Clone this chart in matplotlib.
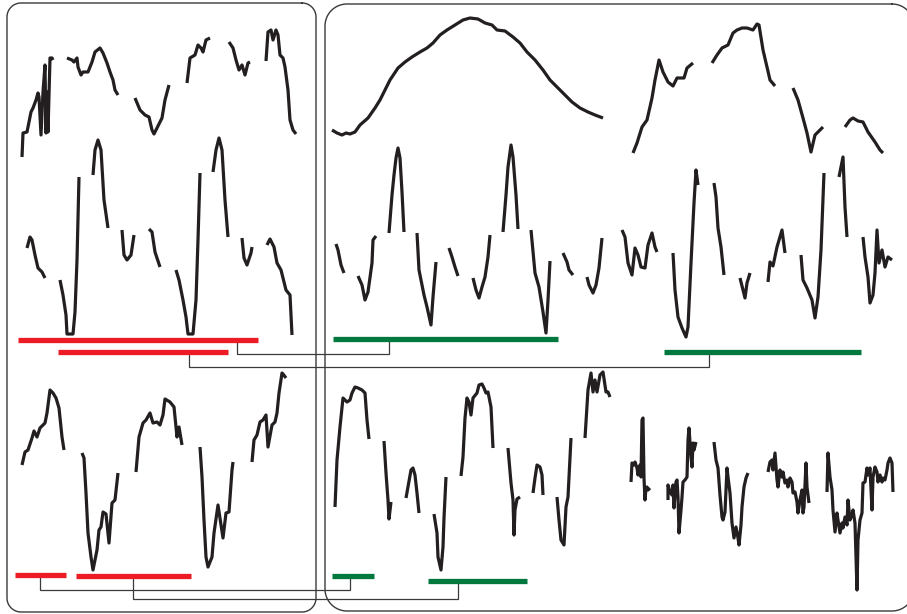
import numpy as np
import matplotlib
matplotlib.use("Agg")
import matplotlib.pyplot as plt

INK = "#231f20"
RED = "#ed1c24"
GREEN = "#00783e"
FRAME = "#3a3a3c"

# ---- recorded traces: (time, level) pieces, gaps between pieces ----
trace_left_top = [
    ([22, 23, 27, 29, 31, 33, 36, 38, 39, 41, 43, 45, 46, 47, 48, 50, 52, 53],
     [157, 133, 132, 122, 112, 108, 100, 93, 97, 135, 92, 65, 133, 92, 132, 58, 58, 60]),
    ([67, 72, 74, 77, 78, 81, 83, 88, 92, 95, 100, 103, 107, 110, 113, 115, 118],
     [58, 60, 62, 58, 67, 75, 72, 72, 62, 52, 48, 53, 63, 72, 80, 90, 95]),
    ([135, 140, 145, 149, 152, 154, 157, 162, 165, 169],
     [98, 110, 115, 117, 130, 134, 128, 118, 100, 85]),
    ([187, 190, 195, 198, 201, 203, 206, 210],
     [83, 58, 55, 45, 48, 52, 40, 38]),
    ([229, 233, 236, 239, 242, 245, 248, 250],
     [42, 48, 60, 70, 65, 75, 63, 62]),
    ([266, 268, 271, 273, 276, 278, 280, 283, 285, 288, 290, 293, 296],
     [61, 32, 30, 40, 30, 35, 55, 58, 67, 90, 120, 130, 134]),
]

trace_left_mid = [
    ([27, 30, 32, 35, 38, 42, 45],
     [248, 237, 240, 255, 268, 272, 278]),
    ([60, 63, 66, 67, 73, 75, 77, 79],
     [280, 295, 315, 334, 334, 312, 260, 177]),
    ([93, 95, 98, 101, 104, 108],
     [175, 150, 140, 150, 200, 228]),
    ([122, 124, 127, 131, 134],
     [230, 255, 260, 255, 235]),
    ([149, 152, 155, 160],
     [229, 232, 252, 267]),
    ([176, 179, 183, 186, 188, 193, 196, 198, 200],
     [270, 280, 300, 317, 334, 334, 300, 240, 173]),
    ([213, 216, 219, 222, 225, 228],
     [172, 150, 138, 150, 200, 237]),
    ([242, 244, 247, 251, 252],
     [238, 258, 265, 253, 247]),
    ([267, 270, 274, 277, 281, 286, 290, 292],
     [245, 239, 247, 263, 270, 290, 295, 335]),
]

trace_right_top = [
    ([332, 337, 342, 346, 350, 355, 360, 368, 375, 380, 385, 390, 398, 405, 412, 420,
      427, 433, 440, 447, 455, 463, 470, 478, 485, 492, 497, 505, 513, 520, 527, 535,
      543, 550, 558, 565, 572, 580, 588, 595, 603],
     [130, 133, 135, 133, 134, 132, 125, 118, 108, 100, 90, 80, 68, 62, 57, 52,
      48, 43, 35, 30, 25, 20, 18, 19, 23, 25, 30, 31, 37, 43, 52, 60,
      70, 80, 88, 95, 102, 108, 112, 115, 118]),
    ([633, 637, 642, 647, 652, 655, 659, 663, 668, 673, 677, 684, 687, 693],
     [153, 143, 127, 120, 98, 80, 60, 72, 82, 86, 78, 78, 68, 63]),
    ([712, 717, 722, 728, 733, 737, 742, 747, 753, 757, 759, 763, 767, 770, 775],
     [63, 55, 48, 45, 33, 30, 28, 28, 30, 24, 25, 50, 67, 80, 86]),
    ([793, 798, 803, 807, 811, 815, 818, 823],
     [88, 100, 118, 133, 152, 135, 132, 127]),
    ([845, 850, 853, 858, 863, 868, 875, 880, 883],
     [127, 120, 118, 121, 122, 132, 142, 150, 153]),
]

trace_right_mid = [
    ([336, 338, 341, 344], [244, 250, 265, 273]),
    ([358, 362, 365, 368, 372, 373, 376], [276, 285, 300, 292, 263, 240, 236]),
    ([389, 392, 394, 396, 398, 400, 402, 404], [233, 195, 175, 158, 148, 158, 192, 232]),
    ([417, 419, 424, 427, 431, 433, 436], [233, 270, 295, 307, 325, 297, 262]),
    ([449, 452, 455, 458], [248, 257, 267, 276]),
    ([473, 476, 479, 482, 485, 488, 490], [278, 290, 298, 287, 277, 257, 235]),
    ([503, 506, 508, 511, 513, 516, 518], [232, 195, 167, 145, 157, 195, 229]),
    ([531, 535, 539, 543, 546, 548, 550], [230, 273, 287, 312, 333, 300, 261]),
    ([563, 567, 569, 573], [253, 262, 270, 275]),
    ([587, 589, 593, 596, 599, 602], [277, 285, 293, 285, 268, 238]),
    ([622, 625, 628, 632, 635, 638, 641, 645, 648, 652, 655, 657],
     [230, 237, 263, 275, 248, 255, 267, 268, 245, 233, 247, 252]),
    ([673, 675, 678, 682, 686, 688, 691, 694, 696, 698],
     [253, 290, 317, 328, 337, 327, 263, 203, 170, 185]),
    ([714, 716, 718, 721, 724], [183, 197, 228, 247, 275]),
    ([740, 743, 745, 747, 750], [278, 290, 298, 283, 273]),
    ([768, 770, 773, 777, 782, 785], [282, 262, 266, 247, 230, 253]),
    ([801, 803, 807, 812, 815, 818, 821, 823, 824],
     [255, 280, 288, 300, 318, 297, 250, 197, 173]),
    ([839, 843, 845, 847], [177, 157, 207, 237]),
    ([863, 865, 868, 870, 873, 875, 877, 879, 882, 885, 888, 892],
     [237, 257, 277, 303, 295, 273, 230, 263, 250, 267, 257, 260]),
]

trace_left_low = [
    ([22, 25, 28, 32, 34, 37, 40, 45, 47, 50, 53, 56, 59, 62, 64],
     [465, 452, 450, 438, 431, 437, 428, 423, 413, 390, 393, 398, 408, 437, 450]),
    ([82, 84, 86, 88, 91, 93, 97, 99, 101, 103, 106, 109, 112, 115, 118],
     [453, 458, 493, 533, 557, 570, 550, 530, 527, 512, 514, 543, 503, 500, 473]),
    ([136, 139, 143, 146, 150, 153, 157, 160, 163, 165, 170, 174, 177, 179, 182],
     [472, 437, 423, 420, 413, 423, 422, 425, 415, 399, 402, 407, 437, 427, 445]),
    ([200, 202, 204, 206, 208, 212, 214, 218, 223, 226, 229, 232, 233],
     [447, 477, 520, 557, 567, 557, 533, 505, 538, 513, 512, 470, 462]),
    ([252, 254, 257, 260, 263, 266, 268, 272, 275, 277, 279, 282, 283, 286],
     [462, 440, 435, 422, 420, 415, 447, 425, 422, 413, 393, 373, 374, 378]),
]

trace_right_low = [
    ([335, 337, 340, 342, 343, 347, 350, 352, 355, 358, 362, 365, 367, 369],
     [507, 460, 427, 407, 398, 402, 400, 393, 387, 388, 390, 393, 420, 439]),
    ([384, 386, 388, 389, 391], [441, 473, 500, 519, 502]),
    ([406, 408, 411, 413, 415, 417, 419], [498, 487, 470, 468, 475, 493, 513]),
    ([434, 437, 438, 441, 443, 444, 446], [514, 533, 557, 570, 547, 518, 477]),
    ([461, 463, 465, 467, 469, 471, 473, 477, 479, 482, 484, 486, 488, 491, 493],
     [476, 457, 418, 398, 402, 415, 398, 393, 385, 384, 388, 393, 392, 407, 448]),
    ([508, 511, 513, 514, 515, 517, 520], [448, 483, 500, 535, 510, 499, 497]),
    ([533, 535, 537, 540, 542, 543], [493, 478, 465, 467, 475, 495]),
    ([557, 559, 561, 564, 566, 568, 571], [497, 520, 540, 545, 507, 497, 438]),
    ([585, 587, 588, 591, 593, 595, 597, 600, 603, 606, 608, 610],
     [438, 407, 390, 373, 392, 380, 392, 375, 372, 392, 392, 397]),
    ([631, 632, 634, 635, 637, 638, 640, 641, 642, 643, 644, 645, 646, 647, 648, 650],
     [482, 463, 465, 462, 468, 475, 465, 477, 420, 418, 478, 500, 488, 487, 490, 488]),
    ([668, 668, 670, 672, 673, 674, 676, 677, 678, 679, 681, 682, 683, 685, 687,
      688, 689, 691, 692, 693, 694, 696],
     [500, 485, 492, 495, 485, 508, 482, 480, 497, 533, 510, 497, 482, 480, 477,
      440, 428, 457, 467, 443, 450, 442]),
    ([714, 716, 718, 720, 722, 723, 725, 727, 728, 730, 732, 734, 736, 738, 739,
      741, 742, 744, 746, 748],
     [442, 460, 468, 495, 517, 520, 512, 468, 477, 493, 523, 538, 527, 538, 545,
      525, 507, 487, 478, 473]),
    ([768, 770, 772, 773, 775, 777, 778, 780, 782, 783, 785, 787, 788, 790, 792,
      793, 795, 797, 798, 800, 802, 803, 804, 806, 807, 809],
     [472, 462, 460, 470, 453, 480, 487, 470, 477, 472, 483, 480, 487, 478, 482,
      493, 492, 502, 513, 500, 490, 513, 507, 463, 487, 503]),
    ([827, 828, 830, 832, 833, 835, 837, 838, 840, 842, 843, 845, 847, 848, 850,
      852, 853, 855, 857, 858, 860, 862, 863, 865, 867, 868, 870, 872, 873, 875,
      877, 878, 880, 882, 883, 885, 887, 888, 890, 892, 893],
     [492, 453, 477, 490, 510, 532, 513, 520, 533, 523, 528, 517, 525, 500, 520,
      515, 510, 523, 590, 540, 520, 513, 483, 482, 468, 475, 468, 510, 477, 467,
      472, 482, 475, 482, 478, 480, 470, 463, 458, 463, 492]),
]

# ---- marked intervals: (start, end, level) ----
red_spans = [(18, 258, 340), (58, 228, 352), (15, 66, 575), (76, 191, 576)]
green_spans = [(333, 558, 339), (664, 861, 352), (332, 374, 576), (428, 527, 581)]

# ---- links between matching intervals: (x_from, y_from, x_to, y_to, y_route) ----
links = [(237, 342, 389, 341, 354), (189, 354, 709, 354, 367),
         (40, 577, 350, 578, 590), (133, 578, 458, 583, 599)]

# ---- panel frames: (left, top, right, bottom, corner radius) ----
panels = [(7, 3, 316, 612, 14), (325, 4, 914, 611, 22)]


def join(pieces):
    xs, ys = [], []
    for px, py in pieces:
        xs += list(px) + [np.nan]
        ys += list(py) + [np.nan]
    return np.array(xs, float), np.array(ys, float)


def rounded_outline(x0, y0, x1, y1, r, n=24):
    """Closed outline of a rectangle with circular corners (y grows downward)."""
    corners = [(x1 - r, y0 + r, -90, 0), (x1 - r, y1 - r, 0, 90),
               (x0 + r, y1 - r, 90, 180), (x0 + r, y0 + r, 180, 270)]
    xs, ys = [], []
    for cx, cy, a0, a1 in corners:
        t = np.radians(np.linspace(a0, a1, n))
        xs.extend(cx + r * np.cos(t))
        ys.extend(cy + r * np.sin(t))
    xs.append(xs[0])
    ys.append(ys[0])
    return xs, ys


fig = plt.figure(figsize=(9.07, 6.14), dpi=100)
ax = fig.add_axes([0, 0, 1, 1])
ax.set_xlim(0, 907)
ax.set_ylim(614, 0)
ax.axis("off")

# panels
for x0, y0, x1, y1, r in panels:
    px, py = rounded_outline(x0, y0, x1, y1, r)
    ax.plot(px, py, color=FRAME, lw=1.0)

# links
for x0, y0, x1, y1, yr in links:
    ax.plot([x0, x0, x1, x1], [y0, yr, yr, y1], color=FRAME, lw=0.9,
            solid_joinstyle="miter")

# traces
for pieces in (trace_left_top, trace_left_mid, trace_right_top,
               trace_right_mid, trace_left_low, trace_right_low):
    tx, ty = join(pieces)
    ax.plot(tx, ty, color=INK, lw=2.3, solid_capstyle="butt", solid_joinstyle="round")

# interval bars
for spans, col in ((red_spans, RED), (green_spans, GREEN)):
    for s, e, lvl in spans:
        ax.plot([s, e], [lvl, lvl], color=col, lw=3.8, solid_capstyle="butt")

fig.savefig("out.png", dpi=100)
